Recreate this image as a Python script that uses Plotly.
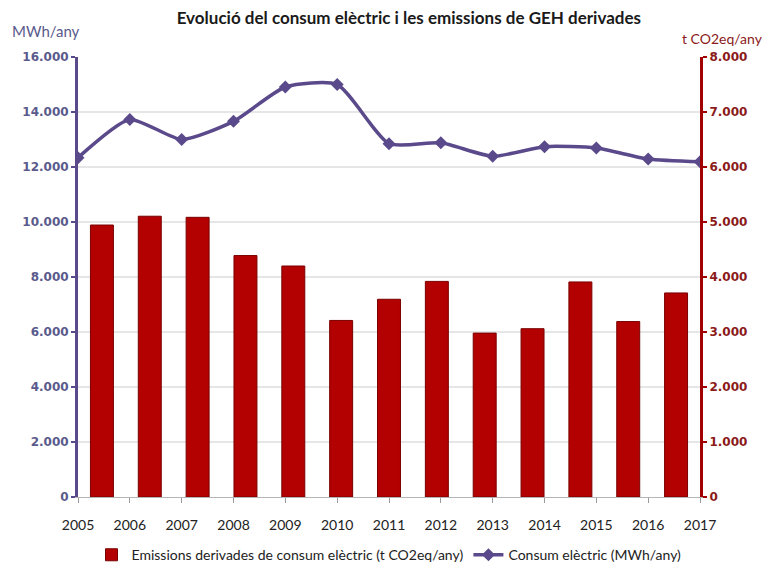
import plotly.graph_objects as go

years = ["2005", "2006", "2007", "2008", "2009", "2010", "2011",
         "2012", "2013", "2014", "2015", "2016", "2017"]
# t CO2eq/any (right axis)
emissions = [4945, 5105, 5085, 4390, 4200, 3210, 3595,
             3920, 2980, 3060, 3910, 3190, 3710]
# MWh/any (left axis)
consumption = [12340, 13730, 13000, 13660, 14910, 15000, 12850,
               12880, 12390, 12740, 12690, 12290, 12190]

PURPLE = "#5b4a8b"
PURPLE_TXT = "#5a5a8c"
RED = "#b30000"
RED_DARK = "#7a0000"
RED_TXT = "#8b1a1a"
FONT = "Lato"

fig = go.Figure()

fig.add_trace(go.Bar(
    x=years, y=emissions,
    name="Emissions derivades de consum elèctric (t CO2eq/any)",
    marker=dict(color=RED, line=dict(color=RED_DARK, width=1)),
    xaxis="x", yaxis="y",
))

fig.add_trace(go.Scatter(
    x=years, y=consumption,
    name="Consum elèctric (MWh/any)",
    mode="lines+markers",
    line=dict(color=PURPLE, width=3.5, shape="spline", smoothing=0.6),
    marker=dict(symbol="diamond", size=10, color=PURPLE),
    xaxis="x2", yaxis="y2",
))

fig.update_layout(
    width=767, height=570,
    margin=dict(l=78, r=67, t=57, b=73, autoexpand=False),
    paper_bgcolor="white", plot_bgcolor="white",
    separators=",.",
    bargap=0.52,
    font=dict(family=FONT, size=14, color="#222222"),
    title=dict(
        text="<b>Evolució del consum elèctric i les emissions de GEH derivades</b>",
        x=0.533, xanchor="center", y=0.968, yanchor="middle",
        font=dict(family=FONT, size=17, color="#1a1a1a"),
    ),
    xaxis=dict(
        type="category", range=[-0.5, 12.5],
        showticklabels=False, ticks="",
        showline=True, linecolor="#b5b5b5", linewidth=1,
        showgrid=False, zeroline=False, fixedrange=True,
    ),
    xaxis2=dict(
        type="category", range=[0, 12], overlaying="x", anchor="y",
        side="bottom", showline=False, showgrid=False, zeroline=False,
        ticks="outside", ticklen=5, tickcolor="#9a9a9a",
        ticklabelstandoff=10, automargin=False,
        tickfont=dict(family=FONT, size=14, color="#222222"),
    ),
    yaxis=dict(
        side="right", range=[0, 8000], dtick=1000, tickformat=",d",
        showline=True, linecolor="#a00000", linewidth=3,
        ticks="outside", ticklen=4, tickwidth=2, tickcolor="#a00000",
        tickfont=dict(family="DejaVu Sans", size=12, color=RED_TXT,
                      weight="bold"),
        showgrid=True, gridcolor="#e6e6e6", gridwidth=1.5,
        zeroline=False, automargin=False,
    ),
    yaxis2=dict(
        side="left", overlaying="y", anchor="x",
        range=[0, 16000], dtick=2000, tickformat=",d",
        showline=True, linecolor=PURPLE, linewidth=3,
        ticks="outside", ticklen=4, tickwidth=2, tickcolor=PURPLE,
        tickfont=dict(family="DejaVu Sans", size=12, color=PURPLE_TXT,
                      weight="bold"),
        showgrid=False, zeroline=False, automargin=False,
    ),
    legend=dict(
        orientation="h", x=0.5, xanchor="center",
        yref="container", y=0.026, yanchor="middle",
        font=dict(family=FONT, size=14, color="#222222"),
        itemwidth=30, tracegroupgap=0,
    ),
    annotations=[
        dict(text="MWh/any", xref="paper", yref="paper", x=-0.109, y=1.059,
             xanchor="left", yanchor="middle", showarrow=False,
             font=dict(family=FONT, size=15, color=PURPLE_TXT)),
        dict(text="t CO2eq/any", xref="paper", yref="paper", x=0.968, y=1.043,
             xanchor="left", yanchor="middle", showarrow=False,
             font=dict(family=FONT, size=14, color=RED_TXT)),
    ],
)

fig.write_html("out.html")
